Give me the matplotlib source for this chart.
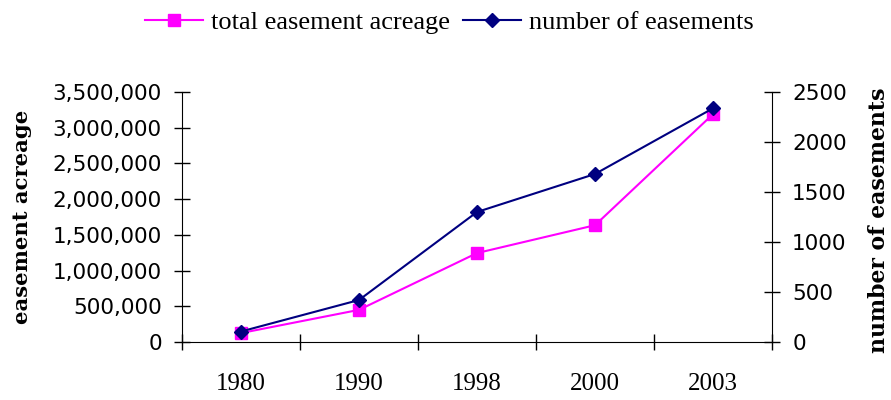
import matplotlib
matplotlib.use("Agg")
import matplotlib.pyplot as plt
from matplotlib.ticker import FuncFormatter, FixedLocator
import numpy as np

years = ["1980", "1990", "1998", "2000", "2003"]
acreage = [125000, 450000, 1245000, 1635000, 3190000]
num_easements = [105, 420, 1300, 1680, 2337]

acre_ticks = [0, 500000, 1000000, 1500000, 2000000, 2500000, 3000000, 3500000]
num_ticks = [0, 500, 1000, 1500, 2000, 2500]

pink = "#FF00FF"
navy = "#000080"

fig = plt.figure(figsize=(8.91, 4.0), dpi=100)
ax = fig.add_axes([182/891, 1-342/400, (772-182)/891, (342-92)/400])
ax2 = ax.twinx()

x = np.arange(len(years))
l1, = ax.plot(x, acreage, color=pink, lw=1.5, marker="s", markersize=8,
              markerfacecolor=pink, markeredgecolor=pink, label="total easement acreage")
l2, = ax2.plot(x, num_easements, color=navy, lw=1.5, marker="D", markersize=7.5,
               markerfacecolor=navy, markeredgecolor=navy, label="number of easements")

ax.set_xlim(-0.5, len(years) - 0.5)
ax.set_ylim(0, 3500000)
ax2.set_ylim(0, 2500)

ax.xaxis.set_major_locator(FixedLocator(np.arange(-0.5, len(years), 1.0)))
ax.xaxis.set_minor_locator(FixedLocator(x))
ax.set_xticklabels([""] * (len(years) + 1))
ax.set_xticklabels(years, minor=True, fontsize=18, family="Liberation Serif")
ax.tick_params(axis="x", which="major", direction="inout", length=11, width=1)
ax.tick_params(axis="x", which="minor", length=0, pad=22)

ax.set_yticks(acre_ticks)
ax.yaxis.set_major_formatter(FuncFormatter(lambda v, p: f"{int(v):,}"))
ax.tick_params(axis="y", direction="inout", length=11, width=1, labelsize=15.5, pad=9)
ax2.set_yticks(num_ticks)
ax2.tick_params(axis="y", direction="inout", length=11, width=1, labelsize=15.5, pad=9)
for lab in ax.get_yticklabels() + ax2.get_yticklabels():
    lab.set_family("DejaVu Sans")

for a in (ax, ax2):
    a.spines["top"].set_visible(False)
    a.patch.set_visible(False)
ax.spines["right"].set_visible(False)
ax2.spines["left"].set_visible(False)
ax2.spines["bottom"].set_visible(False)

fig.text(22/891, 1-217/400, "easement acreage", rotation=90, ha="center", va="center",
         fontsize=15.2, fontweight="bold", family="DejaVu Serif")
fig.text(879/891, 1-220/400, "number of easements", rotation=90, ha="center", va="center",
         fontsize=15.8, fontweight="bold", family="DejaVu Serif")

fig.legend(handles=[l1, l2], loc="center", bbox_to_anchor=(449/891, 1-22/400), ncol=2,
           frameon=False, prop={"family": "Liberation Serif", "size": 19},
           handlelength=2.2, handletextpad=0.3, columnspacing=0.5, borderaxespad=0)

fig.savefig("out.png", dpi=100)
